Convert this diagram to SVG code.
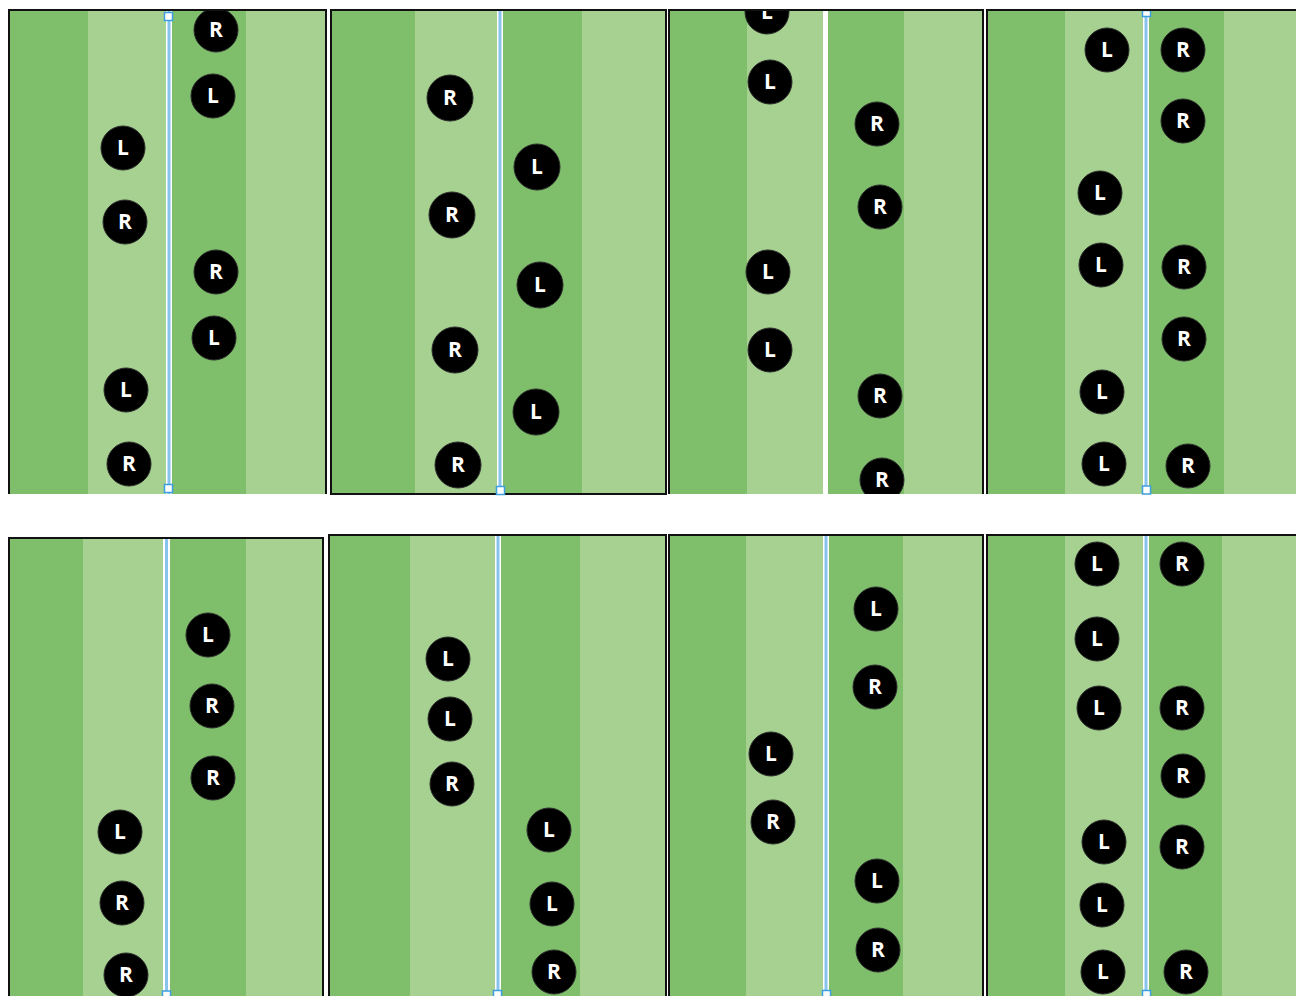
<svg xmlns="http://www.w3.org/2000/svg" width="1296" height="996" viewBox="0 0 1296 996">
<style>
.dk{fill:#7FBE6B}
.lt{fill:#A6D191}
.wl{fill:#FFFFFF}
.bl{fill:#86C4EE}
.hd{fill:#FFFFFF;stroke:#3E9FE0;stroke-width:1.5}
.bd{fill:none;stroke:#111;stroke-width:2}
.c{fill:#000;stroke:#2a2a2a;stroke-width:1}
.t{fill:#FFFFFF;font-family:"Open Sans","DejaVu Sans",sans-serif;font-weight:bold;font-size:21px;text-anchor:middle}
</style>
<defs>
<clipPath id="cp1"><rect x="9" y="10" width="317" height="484"/></clipPath>
<clipPath id="cp2"><rect x="331" y="10" width="335" height="484"/></clipPath>
<clipPath id="cp3"><rect x="669" y="10" width="314" height="484"/></clipPath>
<clipPath id="cp4"><rect x="987" y="10" width="309" height="484"/></clipPath>
<clipPath id="cp5"><rect x="9" y="538" width="314" height="458"/></clipPath>
<clipPath id="cp6"><rect x="329" y="535" width="337" height="461"/></clipPath>
<clipPath id="cp7"><rect x="669" y="535" width="314" height="461"/></clipPath>
<clipPath id="cp8"><rect x="987" y="535" width="309" height="461"/></clipPath>
</defs>
<rect width="1296" height="996" fill="#FFFFFF"/>

<!-- Panel 1 -->
<g id="panel1">
<rect class="dk" x="9" y="10" width="79" height="484"/>
<rect class="lt" x="88" y="10" width="78" height="484"/>
<rect class="wl" x="166" y="10" width="6" height="484"/>
<rect class="bl" x="167.5" y="10" width="3" height="484"/>
<rect class="dk" x="172" y="10" width="74" height="484"/>
<rect class="lt" x="246" y="10" width="80" height="484"/>
<rect class="hd" x="164.5" y="12.5" width="8" height="8"/>
<rect class="hd" x="164.5" y="484.5" width="8" height="8"/>
<g clip-path="url(#cp1)">
<g id="p1n1"><circle class="c" cx="216" cy="30" r="22"/><text class="t" x="216" y="37">R</text></g>
<g id="p1n2"><circle class="c" cx="213" cy="96" r="22"/><text class="t" x="213" y="103">L</text></g>
<g id="p1n3"><circle class="c" cx="123" cy="148" r="22"/><text class="t" x="123" y="155">L</text></g>
<g id="p1n4"><circle class="c" cx="125" cy="222" r="22"/><text class="t" x="125" y="229">R</text></g>
<g id="p1n5"><circle class="c" cx="216" cy="272" r="22"/><text class="t" x="216" y="279">R</text></g>
<g id="p1n6"><circle class="c" cx="214" cy="338" r="22"/><text class="t" x="214" y="345">L</text></g>
<g id="p1n7"><circle class="c" cx="126" cy="390" r="22"/><text class="t" x="126" y="397">L</text></g>
<g id="p1n8"><circle class="c" cx="129" cy="464" r="22"/><text class="t" x="129" y="471">R</text></g>
</g>
<path class="bd" d="M9,494 V10 H326 V494"/>
</g>

<!-- Panel 2 -->
<g id="panel2">
<rect class="dk" x="331" y="10" width="84" height="484"/>
<rect class="lt" x="415" y="10" width="82" height="484"/>
<rect class="wl" x="497" y="10" width="6" height="484"/>
<rect class="bl" x="498.5" y="10" width="3" height="484"/>
<rect class="dk" x="503" y="10" width="79" height="484"/>
<rect class="lt" x="582" y="10" width="84" height="484"/>
<g clip-path="url(#cp2)">
<g id="p2n1"><circle class="c" cx="450" cy="98" r="23"/><text class="t" x="450" y="105">R</text></g>
<g id="p2n2"><circle class="c" cx="537" cy="167" r="23"/><text class="t" x="537" y="174">L</text></g>
<g id="p2n3"><circle class="c" cx="452" cy="215" r="23"/><text class="t" x="452" y="222">R</text></g>
<g id="p2n4"><circle class="c" cx="540" cy="285" r="23"/><text class="t" x="540" y="292">L</text></g>
<g id="p2n5"><circle class="c" cx="455" cy="350" r="23"/><text class="t" x="455" y="357">R</text></g>
<g id="p2n6"><circle class="c" cx="536" cy="412" r="23"/><text class="t" x="536" y="419">L</text></g>
<g id="p2n7"><circle class="c" cx="458" cy="465" r="23"/><text class="t" x="458" y="472">R</text></g>
</g>
<rect class="bd" x="331" y="10" width="335" height="484"/>
<rect class="hd" x="496.5" y="486.5" width="8" height="8"/>
</g>

<!-- Panel 3 -->
<g id="panel3">
<rect class="dk" x="669" y="10" width="78" height="484"/>
<rect class="lt" x="747" y="10" width="76" height="484"/>
<rect class="wl" x="823" y="10" width="5" height="484"/>
<rect class="dk" x="828" y="10" width="76" height="484"/>
<rect class="lt" x="904" y="10" width="79" height="484"/>
<g clip-path="url(#cp3)">
<g id="p3n1"><circle class="c" cx="767" cy="12" r="22"/><text class="t" x="767" y="19">L</text></g>
<g id="p3n2"><circle class="c" cx="770" cy="82" r="22"/><text class="t" x="770" y="89">L</text></g>
<g id="p3n3"><circle class="c" cx="877" cy="124" r="22"/><text class="t" x="877" y="131">R</text></g>
<g id="p3n4"><circle class="c" cx="880" cy="207" r="22"/><text class="t" x="880" y="214">R</text></g>
<g id="p3n5"><circle class="c" cx="768" cy="272" r="22"/><text class="t" x="768" y="279">L</text></g>
<g id="p3n6"><circle class="c" cx="770" cy="350" r="22"/><text class="t" x="770" y="357">L</text></g>
<g id="p3n7"><circle class="c" cx="880" cy="396" r="22"/><text class="t" x="880" y="403">R</text></g>
<g id="p3n8"><circle class="c" cx="882" cy="480" r="22"/><text class="t" x="882" y="487">R</text></g>
</g>
<path class="bd" d="M669,494 V10 H983 V494"/>
</g>

<!-- Panel 4 -->
<g id="panel4">
<rect class="dk" x="987" y="10" width="78" height="484"/>
<rect class="lt" x="1065" y="10" width="78" height="484"/>
<rect class="wl" x="1143" y="10" width="6" height="484"/>
<rect class="bl" x="1144.5" y="10" width="3" height="484"/>
<rect class="dk" x="1149" y="10" width="75" height="484"/>
<rect class="lt" x="1224" y="10" width="72" height="484"/>
<rect class="hd" x="1142.5" y="10.5" width="8" height="6"/>
<rect class="hd" x="1142.5" y="486" width="8" height="8"/>
<g clip-path="url(#cp4)">
<g id="p4n1"><circle class="c" cx="1107" cy="50" r="22"/><text class="t" x="1107" y="57">L</text></g>
<g id="p4n2"><circle class="c" cx="1183" cy="50" r="22"/><text class="t" x="1183" y="57">R</text></g>
<g id="p4n3"><circle class="c" cx="1183" cy="121" r="22"/><text class="t" x="1183" y="128">R</text></g>
<g id="p4n4"><circle class="c" cx="1100" cy="193" r="22"/><text class="t" x="1100" y="200">L</text></g>
<g id="p4n5"><circle class="c" cx="1101" cy="265" r="22"/><text class="t" x="1101" y="272">L</text></g>
<g id="p4n6"><circle class="c" cx="1184" cy="267" r="22"/><text class="t" x="1184" y="274">R</text></g>
<g id="p4n7"><circle class="c" cx="1184" cy="339" r="22"/><text class="t" x="1184" y="346">R</text></g>
<g id="p4n8"><circle class="c" cx="1102" cy="392" r="22"/><text class="t" x="1102" y="399">L</text></g>
<g id="p4n9"><circle class="c" cx="1104" cy="464" r="22"/><text class="t" x="1104" y="471">L</text></g>
<g id="p4n10"><circle class="c" cx="1188" cy="466" r="22"/><text class="t" x="1188" y="473">R</text></g>
</g>
<path class="bd" d="M987,494 V10 H1297"/>
</g>

<!-- Panel 5 -->
<g id="panel5">
<rect class="dk" x="9" y="538" width="74" height="458"/>
<rect class="lt" x="83" y="538" width="80" height="458"/>
<rect class="wl" x="163" y="538" width="7" height="458"/>
<rect class="bl" x="165" y="538" width="3" height="458"/>
<rect class="dk" x="170" y="538" width="76" height="458"/>
<rect class="lt" x="246" y="538" width="77" height="458"/>
<rect class="hd" x="162.5" y="991" width="8" height="8"/>
<g clip-path="url(#cp5)">
<g id="p5n1"><circle class="c" cx="208" cy="635" r="22"/><text class="t" x="208" y="642">L</text></g>
<g id="p5n2"><circle class="c" cx="212" cy="706" r="22"/><text class="t" x="212" y="713">R</text></g>
<g id="p5n3"><circle class="c" cx="213" cy="778" r="22"/><text class="t" x="213" y="785">R</text></g>
<g id="p5n4"><circle class="c" cx="120" cy="832" r="22"/><text class="t" x="120" y="839">L</text></g>
<g id="p5n5"><circle class="c" cx="122" cy="903" r="22"/><text class="t" x="122" y="910">R</text></g>
<g id="p5n6"><circle class="c" cx="126" cy="975" r="22"/><text class="t" x="126" y="982">R</text></g>
</g>
<path class="bd" d="M9,997 V538 H323 V997"/>
</g>

<!-- Panel 6 -->
<g id="panel6">
<rect class="dk" x="329" y="535" width="81" height="461"/>
<rect class="lt" x="410" y="535" width="85" height="461"/>
<rect class="wl" x="495" y="535" width="6" height="461"/>
<rect class="bl" x="496.5" y="535" width="3" height="461"/>
<rect class="dk" x="501" y="535" width="79" height="461"/>
<rect class="lt" x="580" y="535" width="86" height="461"/>
<rect class="hd" x="493.5" y="990.5" width="8" height="8"/>
<g clip-path="url(#cp6)">
<g id="p6n1"><circle class="c" cx="448" cy="659" r="22"/><text class="t" x="448" y="666">L</text></g>
<g id="p6n2"><circle class="c" cx="450" cy="719" r="22"/><text class="t" x="450" y="726">L</text></g>
<g id="p6n3"><circle class="c" cx="452" cy="784" r="22"/><text class="t" x="452" y="791">R</text></g>
<g id="p6n4"><circle class="c" cx="549" cy="830" r="22"/><text class="t" x="549" y="837">L</text></g>
<g id="p6n5"><circle class="c" cx="552" cy="904" r="22"/><text class="t" x="552" y="911">L</text></g>
<g id="p6n6"><circle class="c" cx="554" cy="972" r="22"/><text class="t" x="554" y="979">R</text></g>
</g>
<path class="bd" d="M329,997 V535 H666 V997"/>
</g>

<!-- Panel 7 -->
<g id="panel7">
<rect class="dk" x="669" y="535" width="77" height="461"/>
<rect class="lt" x="746" y="535" width="77" height="461"/>
<rect class="wl" x="823" y="535" width="6" height="461"/>
<rect class="bl" x="824.5" y="535" width="3" height="461"/>
<rect class="dk" x="829" y="535" width="74" height="461"/>
<rect class="lt" x="903" y="535" width="80" height="461"/>
<rect class="hd" x="822.5" y="990.5" width="8" height="8"/>
<g clip-path="url(#cp7)">
<g id="p7n1"><circle class="c" cx="876" cy="609" r="22"/><text class="t" x="876" y="616">L</text></g>
<g id="p7n2"><circle class="c" cx="875" cy="687" r="22"/><text class="t" x="875" y="694">R</text></g>
<g id="p7n3"><circle class="c" cx="771" cy="754" r="22"/><text class="t" x="771" y="761">L</text></g>
<g id="p7n4"><circle class="c" cx="773" cy="822" r="22"/><text class="t" x="773" y="829">R</text></g>
<g id="p7n5"><circle class="c" cx="877" cy="881" r="22"/><text class="t" x="877" y="888">L</text></g>
<g id="p7n6"><circle class="c" cx="878" cy="950" r="22"/><text class="t" x="878" y="957">R</text></g>
</g>
<path class="bd" d="M669,997 V535 H983 V997"/>
</g>

<!-- Panel 8 -->
<g id="panel8">
<rect class="dk" x="987" y="535" width="78" height="461"/>
<rect class="lt" x="1065" y="535" width="78" height="461"/>
<rect class="wl" x="1143" y="535" width="6" height="461"/>
<rect class="bl" x="1144.5" y="535" width="3" height="461"/>
<rect class="dk" x="1149" y="535" width="73" height="461"/>
<rect class="lt" x="1222" y="535" width="74" height="461"/>
<rect class="hd" x="1142.5" y="990.5" width="8" height="8"/>
<g clip-path="url(#cp8)">
<g id="p8n1"><circle class="c" cx="1097" cy="564" r="22"/><text class="t" x="1097" y="571">L</text></g>
<g id="p8n2"><circle class="c" cx="1182" cy="564" r="22"/><text class="t" x="1182" y="571">R</text></g>
<g id="p8n3"><circle class="c" cx="1097" cy="639" r="22"/><text class="t" x="1097" y="646">L</text></g>
<g id="p8n4"><circle class="c" cx="1099" cy="708" r="22"/><text class="t" x="1099" y="715">L</text></g>
<g id="p8n5"><circle class="c" cx="1182" cy="708" r="22"/><text class="t" x="1182" y="715">R</text></g>
<g id="p8n6"><circle class="c" cx="1183" cy="776" r="22"/><text class="t" x="1183" y="783">R</text></g>
<g id="p8n7"><circle class="c" cx="1104" cy="842" r="22"/><text class="t" x="1104" y="849">L</text></g>
<g id="p8n8"><circle class="c" cx="1182" cy="847" r="22"/><text class="t" x="1182" y="854">R</text></g>
<g id="p8n9"><circle class="c" cx="1102" cy="905" r="22"/><text class="t" x="1102" y="912">L</text></g>
<g id="p8n10"><circle class="c" cx="1103" cy="972" r="22"/><text class="t" x="1103" y="979">L</text></g>
<g id="p8n11"><circle class="c" cx="1186" cy="972" r="22"/><text class="t" x="1186" y="979">R</text></g>
</g>
<path class="bd" d="M987,997 V535 H1297"/>
</g>
</svg>
